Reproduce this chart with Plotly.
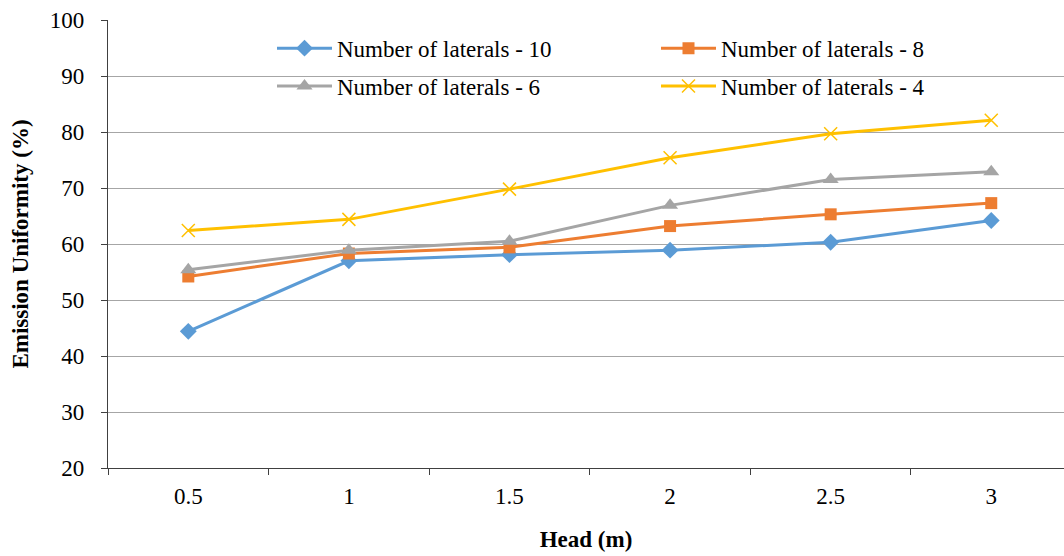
import plotly.graph_objects as go

heads = ["0.5", "1", "1.5", "2", "2.5", "3"]
lat10 = [44.4, 57.0, 58.1, 58.9, 60.3, 64.2]
lat8 = [54.2, 58.3, 59.4, 63.2, 65.3, 67.3]
lat6 = [55.4, 58.9, 60.5, 66.9, 71.5, 72.9]
lat4 = [62.4, 64.4, 69.8, 75.4, 79.7, 82.1]

series = [
    ("Number of laterals - 10", lat10, "#5b9bd5", "diamond", 13, "legend"),
    ("Number of laterals - 8", lat8, "#ed7d31", "square", 12, "legend2"),
    ("Number of laterals - 6", lat6, "#a5a5a5", "triangle-up", 14, "legend"),
    ("Number of laterals - 4", lat4, "#ffc000", "x-thin", 13, "legend2"),
]

fig = go.Figure()
for name, vals, col, sym, sz, lg in series:
    marker = dict(symbol=sym, size=sz, color=col)
    if sym == "x-thin":
        marker["line"] = dict(color=col, width=1.5)
    fig.add_trace(go.Scatter(
        x=heads, y=vals, name=name, mode="lines+markers",
        line=dict(color=col, width=3),
        marker=marker, legend=lg, legendgroup=name,
    ))

font = "Liberation Serif"
legend_common = dict(
    font=dict(family=font, size=23, color="#000"),
    bgcolor="rgba(0,0,0,0)", orientation="v", tracegroupgap=5,
    itemwidth=55, xanchor="left", yanchor="top",
)
fig.update_layout(
    width=1064, height=556,
    margin=dict(l=108, r=0, t=20, b=88),
    plot_bgcolor="white", paper_bgcolor="white",
    font=dict(family=font, size=23, color="#000"),
    legend=dict(x=(272 - 108) / 956, y=0.985, **legend_common),
    legend2=dict(x=(656 - 108) / 956, y=0.985, **legend_common),
    xaxis=dict(
        type="category", range=[-0.5, 5.453], tickson="boundaries",
        ticks="outside", ticklen=6, tickcolor="#404040",
        showline=True, linecolor="#404040", linewidth=1.3,
        showgrid=False, tickfont=dict(family=font, size=23), ticklabelstandoff=7,
        title=dict(text="<b>Head (m)</b>", font=dict(family=font, size=23), standoff=23),
    ),
    yaxis=dict(
        range=[20, 100], dtick=10, ticks="outside", ticklen=6, tickcolor="#404040",
        showline=True, linecolor="#404040", linewidth=1.3,
        showgrid=True, gridcolor="#a6a6a6", gridwidth=1.3,
        zeroline=False, tickfont=dict(family=font, size=23), ticklabelstandoff=12,
        title=dict(text="<b>Emission Uniformity (%)</b>", font=dict(family=font, size=23), standoff=14),
    ),
)
fig.write_html("out.html")
